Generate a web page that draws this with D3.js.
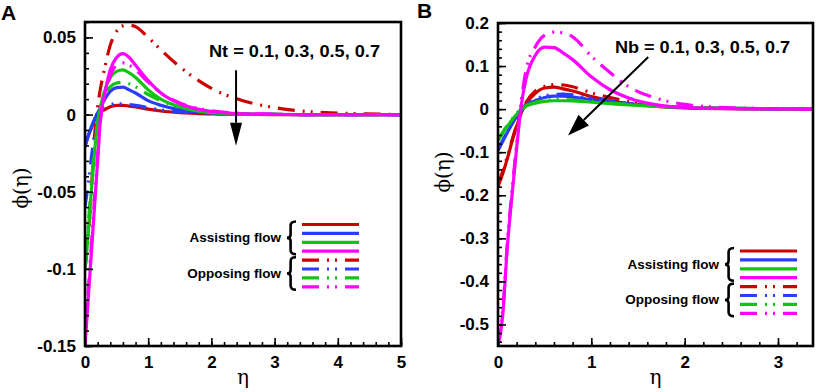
<!DOCTYPE html>
<html>
<head>
<meta charset="utf-8">
<script src="https://cdn.jsdelivr.net/npm/d3@7/dist/d3.min.js"></script>
<style>
	body { margin: 0; background: #fff; }
	svg { display: block; font-family: 'Liberation Sans', Arial, sans-serif; }
</style>
</head>
<body>
<svg id="chart" width="816" height="392"></svg>
<script>
// Panel A: effect of Nt on phi(eta)
const etaA = [ 0, 0.05, 0.1, 0.15, 0.2, 0.25, 0.3, 0.4, 0.5, 0.6, 0.7, 0.8, 1.0, 1.2, 1.5, 2.0, 2.5, 3.0, 3.5, 4.0, 5.0 ];
const ntAssistRed = [ -0.020, -0.014, -0.009, -0.004, -0.001, 0.002, 0.003, 0.005, 0.006, 0.006, 0.0055, 0.005, 0.0035, 0.0023, 0.0012, 0.0004, 0.0001, 0, 0, 0, 0 ];
const ntAssistBlue = [ -0.021, -0.014, -0.008, -0.003, 0.001, 0.005, 0.009, 0.015, 0.0175, 0.0178, 0.016, 0.014, 0.009, 0.006, 0.003, 0.001, 0.0003, 0.0001, 0, 0, 0 ];
const ntAssistGreen = [ -0.100, -0.078, -0.050, -0.025, -0.006, 0.006, 0.014, 0.024, 0.028, 0.029, 0.027, 0.024, 0.016, 0.010, 0.005, 0.0013, 0.0003, 0.0001, 0, 0, 0 ];
const ntAssistMagenta = [ -0.150, -0.120, -0.090, -0.060, -0.030, 0.000, 0.011, 0.029, 0.037, 0.0395, 0.037, 0.032, 0.022, 0.014, 0.007, 0.002, 0.0005, 0.0001, 0, 0, 0 ];
const ntOpposeRed = [ -0.100, -0.080, -0.050, -0.015, 0.005, 0.018, 0.028, 0.045, 0.054, 0.0575, 0.058, 0.057, 0.050, 0.042, 0.031, 0.017, 0.009, 0.0045, 0.002, 0.001, 0 ];
const ntOpposeBlue = [ -0.060, -0.045, -0.028, -0.013, -0.003, 0.002, 0.005, 0.0065, 0.007, 0.007, 0.0065, 0.006, 0.0045, 0.003, 0.0018, 0.0007, 0.0003, 0.0001, 0, 0, 0 ];
const ntOpposeGreen = [ -0.095, -0.072, -0.045, -0.022, -0.005, 0.005, 0.011, 0.018, 0.0205, 0.021, 0.020, 0.018, 0.013, 0.009, 0.005, 0.0015, 0.0004, 0.0001, 0, 0, 0 ];
const ntOpposeMagenta = [ -0.145, -0.115, -0.085, -0.055, -0.026, -0.002, 0.009, 0.025, 0.032, 0.0335, 0.032, 0.029, 0.021, 0.014, 0.0075, 0.0025, 0.0007, 0.0002, 0, 0, 0 ];

// Panel B: effect of Nb on phi(eta)
const etaB = [ 0, 0.05, 0.1, 0.15, 0.2, 0.25, 0.3, 0.4, 0.5, 0.6, 0.7, 0.8, 1.0, 1.2, 1.4, 1.7, 2.0, 2.5, 3.0, 3.375 ];
const nbAssistRed = [ -0.180, -0.150, -0.115, -0.075, -0.040, -0.008, 0.012, 0.037, 0.049, 0.051, 0.047, 0.042, 0.029, 0.020, 0.013, 0.0065, 0.003, 0.001, 0.0003, 0 ];
const nbAssistBlue = [ -0.096, -0.075, -0.054, -0.035, -0.017, -0.002, 0.008, 0.020, 0.027, 0.030, 0.030, 0.028, 0.022, 0.016, 0.012, 0.007, 0.004, 0.0017, 0.0007, 0.0003 ];
const nbAssistGreen = [ -0.073, -0.056, -0.040, -0.025, -0.012, 0.000, 0.007, 0.014, 0.018, 0.0195, 0.0195, 0.019, 0.016, 0.013, 0.010, 0.0065, 0.0042, 0.0018, 0.0008, 0.0004 ];
const nbAssistMagenta = [ -0.550, -0.480, -0.320, -0.200, -0.090, 0.010, 0.070, 0.125, 0.144, 0.143, 0.130, 0.115, 0.075, 0.045, 0.026, 0.010, 0.004, 0.001, 0.0003, 0 ];
const nbOpposeRed = [ -0.175, -0.145, -0.110, -0.072, -0.037, -0.005, 0.016, 0.042, 0.053, 0.057, 0.056, 0.052, 0.038, 0.027, 0.018, 0.009, 0.004, 0.0015, 0.0005, 0 ];
const nbOpposeBlue = [ -0.094, -0.073, -0.052, -0.033, -0.015, 0.000, 0.010, 0.023, 0.031, 0.034, 0.035, 0.033, 0.026, 0.019, 0.013, 0.008, 0.004, 0.0017, 0.0007, 0.0003 ];
const nbOpposeGreen = [ -0.071, -0.054, -0.038, -0.023, -0.010, 0.001, 0.008, 0.016, 0.020, 0.022, 0.022, 0.021, 0.018, 0.014, 0.011, 0.007, 0.0045, 0.0019, 0.0008, 0.0004 ];
const nbOpposeMagenta = [ -0.550, -0.470, -0.310, -0.190, -0.080, 0.020, 0.090, 0.145, 0.172, 0.179, 0.177, 0.168, 0.123, 0.085, 0.052, 0.025, 0.011, 0.003, 0.001, 0 ];

// Ticks
const xTicksA = [ 0, 1, 2, 3, 4, 5 ];
const yTicksA = [ -0.15, -0.1, -0.05, 0, 0.05 ];
const yTickLabelsA = [ '-0.15', '-0.1', '-0.05', '0', '0.05' ];
const xTicksB = [ 0, 1, 2, 3 ];
const yTicksB = [ -0.5, -0.4, -0.3, -0.2, -0.1, 0, 0.1, 0.2 ];
const yTickLabelsB = [ '-0.5', '-0.4', '-0.3', '-0.2', '-0.1', '0', '0.1', '0.2' ];

const seriesColors = [ '#cc0000', '#2a3cff', '#11c411', '#ff00ff' ];
const legendLabels = [ 'Assisting flow', 'Opposing flow' ];
const OPPOSING_DASH = '17,8,2,6,2,8';

/**
 * One phi(eta) panel with its frame, ticks, curves, legend and arrow.
 */
class PhiPanel {
	/**
	 * @param {Object} svg    - d3 selection of the root svg
	 * @param {Object} config - panel settings
	 */
	constructor( svg, config ) {
		this.svg = svg;
		this.config = config;
		this.g = svg.append( 'g' );

		this.setupScales();
		this.renderCurves();
		this.renderAxes();
		this.renderLegend();
		this.renderAnnotation();
	}

	setupScales() {
		const { box, xDomain, yDomain } = this.config;
		this.x = d3.scaleLinear().domain( xDomain ).range( [ box.left, box.right ] );
		this.y = d3.scaleLinear().domain( yDomain ).range( [ box.bottom, box.top ] );
	}

	renderCurves() {
		const { box, eta, assisting, opposing, id } = this.config;

		this.svg.append( 'clipPath' )
			.attr( 'id', `clip-${ id }` )
			.append( 'rect' )
			.attr( 'x', box.left )
			.attr( 'y', box.top )
			.attr( 'width', box.right - box.left )
			.attr( 'height', box.bottom - box.top );

		const line = d3.line()
			.x( ( d ) => this.x( d[ 0 ] ) )
			.y( ( d ) => this.y( d[ 1 ] ) )
			.curve( d3.curveMonotoneX );

		const curves = this.g.append( 'g' ).attr( 'clip-path', `url(#clip-${ id })` );

		seriesColors.forEach( ( color, i ) => {
			curves.append( 'path' )
				.attr( 'd', line( eta.map( ( e, k ) => [ e, assisting[ i ][ k ] ] ) ) )
				.attr( 'fill', 'none' )
				.attr( 'stroke', color )
				.attr( 'stroke-width', 3.2 );
			curves.append( 'path' )
				.attr( 'd', line( eta.map( ( e, k ) => [ e, opposing[ i ][ k ] ] ) ) )
				.attr( 'fill', 'none' )
				.attr( 'stroke', color )
				.attr( 'stroke-width', 3.2 )
				.attr( 'stroke-dasharray', OPPOSING_DASH );
		} );
	}

	renderAxes() {
		const { box, xTicks, yTicks, yTickLabels, xMinor, yMinor } = this.config;
		const g = this.g;

		const styleAxis = ( sel ) => {
			sel.select( '.domain' ).remove();
			sel.selectAll( 'line' ).attr( 'stroke', '#000' ).attr( 'stroke-width', 1.6 );
			sel.selectAll( 'text' )
				.attr( 'font-size', 17 )
				.attr( 'font-weight', 'bold' )
				.attr( 'fill', '#000' );
		};

		g.append( 'g' )
			.attr( 'transform', `translate(0,${ box.bottom })` )
			.call( d3.axisBottom( this.x ).tickValues( xMinor ).tickSize( -4 ).tickFormat( '' ) )
			.call( styleAxis );
		g.append( 'g' )
			.attr( 'transform', `translate(${ box.left },0)` )
			.call( d3.axisLeft( this.y ).tickValues( yMinor ).tickSize( -4 ).tickFormat( '' ) )
			.call( styleAxis );

		g.append( 'g' )
			.attr( 'transform', `translate(0,${ box.bottom })` )
			.call( d3.axisBottom( this.x ).tickValues( xTicks ).tickSize( -8 ).tickPadding( 10 ).tickFormat( d3.format( 'd' ) ) )
			.call( styleAxis );
		g.append( 'g' )
			.attr( 'transform', `translate(${ box.left },0)` )
			.call( d3.axisLeft( this.y ).tickValues( yTicks ).tickSize( -8 ).tickPadding( 9 )
				.tickFormat( ( d, i ) => yTickLabels[ i ] ) )
			.call( styleAxis );

		g.append( 'rect' )
			.attr( 'x', box.left )
			.attr( 'y', box.top )
			.attr( 'width', box.right - box.left )
			.attr( 'height', box.bottom - box.top )
			.attr( 'fill', 'none' )
			.attr( 'stroke', '#000' )
			.attr( 'stroke-width', 2.6 );

		// axis titles
		const greek = "'DejaVu Serif', 'Liberation Serif', serif";
		g.append( 'text' )
			.attr( 'transform', `translate(${ this.config.yTitleX },${ this.config.yTitleY }) rotate(-90)` )
			.attr( 'text-anchor', 'middle' )
			.attr( 'dominant-baseline', 'central' )
			.attr( 'font-family', greek )
			.attr( 'font-size', 20 )
			.text( 'ϕ(η)' );
		g.append( 'text' )
			.attr( 'x', ( box.left + box.right ) / 2 )
			.attr( 'y', 384 )
			.attr( 'text-anchor', 'middle' )
			.attr( 'font-family', greek )
			.attr( 'font-size', 20 )
			.text( 'η' );

		g.append( 'text' )
			.attr( 'x', this.config.letterX )
			.attr( 'y', this.config.letterY )
			.attr( 'font-size', 21 )
			.attr( 'font-weight', 'bold' )
			.text( this.config.letter );
	}

	/**
	 * Curly brace path with its point on the left
	 */
	bracePath( x, y0, y1, w ) {
		const ym = ( y0 + y1 ) / 2;
		const h = y1 - y0;
		return `M${ x + w },${ y0 }`
			+ `Q${ x + w * 0.35 },${ y0 } ${ x + w * 0.4 },${ y0 + h * 0.15 }`
			+ `L${ x + w * 0.4 },${ ym - h * 0.1 }`
			+ `Q${ x + w * 0.4 },${ ym } ${ x },${ ym }`
			+ `Q${ x + w * 0.4 },${ ym } ${ x + w * 0.4 },${ ym + h * 0.1 }`
			+ `L${ x + w * 0.4 },${ y1 - h * 0.15 }`
			+ `Q${ x + w * 0.35 },${ y1 } ${ x + w },${ y1 }`;
	}

	renderLegend() {
		const { legend } = this.config;
		const g = this.g.append( 'g' );

		legendLabels.forEach( ( label, gi ) => {
			const rows = seriesColors.map( ( c, i ) => legend.y + ( gi * 4 + i ) * legend.step );
			seriesColors.forEach( ( color, i ) => {
				g.append( 'line' )
					.attr( 'x1', legend.x )
					.attr( 'x2', legend.x + legend.len )
					.attr( 'y1', rows[ i ] )
					.attr( 'y2', rows[ i ] )
					.attr( 'stroke', color )
					.attr( 'stroke-width', 3.2 )
					.attr( 'stroke-dasharray', gi === 1 ? OPPOSING_DASH : null );
			} );
			const top = rows[ 0 ] - 3;
			const bottom = rows[ 3 ] + 3;
			g.append( 'path' )
				.attr( 'd', this.bracePath( legend.x - 15, top, bottom, 9 ) )
				.attr( 'fill', 'none' )
				.attr( 'stroke', '#000' )
				.attr( 'stroke-width', 2.6 );
			g.append( 'text' )
				.attr( 'x', legend.x - 21 )
				.attr( 'y', ( top + bottom ) / 2 )
				.attr( 'text-anchor', 'end' )
				.attr( 'dominant-baseline', 'central' )
				.attr( 'font-size', 13.5 )
				.attr( 'font-weight', 'bold' )
				.text( label );
		} );
	}

	renderAnnotation() {
		const { note, arrow } = this.config;
		const g = this.g.append( 'g' );

		g.append( 'text' )
			.attr( 'x', note.x )
			.attr( 'y', note.y )
			.attr( 'dominant-baseline', 'central' )
			.attr( 'font-size', 16 )
			.attr( 'font-weight', 'bold' )
			.attr( 'textLength', note.width )
			.attr( 'lengthAdjust', 'spacingAndGlyphs' )
			.text( note.text );

		const x0 = this.x( arrow.from[ 0 ] );
		const y0 = this.y( arrow.from[ 1 ] );
		const x1 = this.x( arrow.to[ 0 ] );
		const y1 = this.y( arrow.to[ 1 ] );
		const len = Math.hypot( x1 - x0, y1 - y0 );
		const ux = ( x1 - x0 ) / len;
		const uy = ( y1 - y0 ) / len;
		const bx = x1 - ux * arrow.head;
		const by = y1 - uy * arrow.head;

		g.append( 'line' )
			.attr( 'x1', x0 ).attr( 'y1', y0 )
			.attr( 'x2', bx ).attr( 'y2', by )
			.attr( 'stroke', '#000' )
			.attr( 'stroke-width', 2 );
		g.append( 'path' )
			.attr( 'd', `M${ x1 },${ y1 }L${ bx - uy * arrow.half },${ by + ux * arrow.half }L${ bx + uy * arrow.half },${ by - ux * arrow.half }Z` )
			.attr( 'fill', '#000' );
	}
}

const svg = d3.select( '#chart' );

new PhiPanel( svg, {
	id: 'a',
	letter: 'A',
	letterX: 1,
	letterY: 20,
	box: { left: 85, right: 401, top: 22, bottom: 346 },
	xDomain: [ 0, 5 ],
	yDomain: [ -0.15, 0.06 ],
	eta: etaA,
	assisting: [ ntAssistRed, ntAssistBlue, ntAssistGreen, ntAssistMagenta ],
	opposing: [ ntOpposeRed, ntOpposeBlue, ntOpposeGreen, ntOpposeMagenta ],
	xTicks: xTicksA,
	yTicks: yTicksA,
	yTickLabels: yTickLabelsA,
	xMinor: d3.range( 0, 5.01, 0.2 ),
	yMinor: d3.range( -0.15, 0.0601, 0.01 ),
	yTitleX: 21,
	yTitleY: 188,
	legend: { x: 302, y: 224.5, len: 57, step: 8.9 },
	note: { x: 209, y: 51, width: 171, text: 'Nt = 0.1, 0.3, 0.5, 0.7' },
	arrow: { from: [ 2.39, 0.0287 ], to: [ 2.39, -0.0202 ], head: 23, half: 6 },
} );

new PhiPanel( svg, {
	id: 'b',
	letter: 'B',
	letterX: 417,
	letterY: 18,
	box: { left: 498, right: 813, top: 23, bottom: 346 },
	xDomain: [ 0, 3.375 ],
	yDomain: [ -0.55, 0.2 ],
	eta: etaB,
	assisting: [ nbAssistRed, nbAssistBlue, nbAssistGreen, nbAssistMagenta ],
	opposing: [ nbOpposeRed, nbOpposeBlue, nbOpposeGreen, nbOpposeMagenta ],
	xTicks: xTicksB,
	yTicks: yTicksB,
	yTickLabels: yTickLabelsB,
	xMinor: d3.range( 0, 3.21, 0.2 ),
	yMinor: d3.range( -0.54, 0.2001, 0.02 ),
	yTitleX: 443,
	yTitleY: 172,
	legend: { x: 740, y: 251, len: 57, step: 8.9 },
	note: { x: 615, y: 47, width: 175, text: 'Nb = 0.1, 0.3, 0.5, 0.7' },
	arrow: { from: [ 1.61, 0.121 ], to: [ 0.75, -0.061 ], head: 22, half: 7.5 },
} );
</script>
</body>
</html>
